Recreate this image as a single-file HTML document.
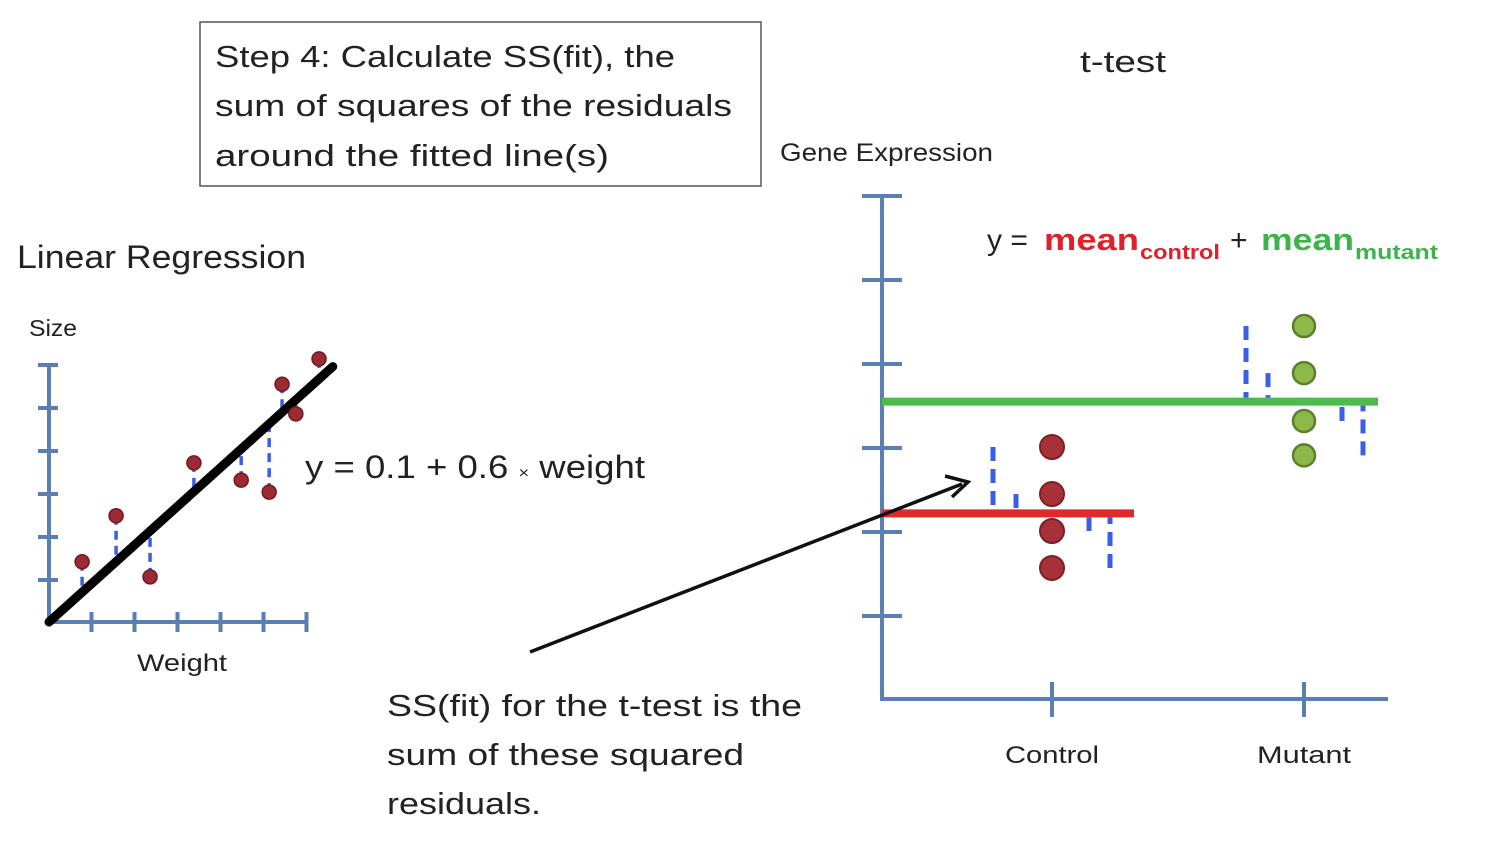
<!DOCTYPE html>
<html><head><meta charset="utf-8"><style>
html,body{margin:0;padding:0;background:#fff;}
svg{display:block;font-family:"Liberation Sans",sans-serif;}
</style></head><body>
<svg id="c" width="1500" height="842" viewBox="0 0 1500 842">
<rect x="200" y="22" width="561" height="164" fill="#fff" stroke="#555" stroke-width="1.5"/>
<g fill="#222" font-size="31">
<text x="215" y="67" textLength="460" lengthAdjust="spacingAndGlyphs">Step 4: Calculate SS(fit), the</text>
<text x="215" y="116" textLength="517" lengthAdjust="spacingAndGlyphs">sum of squares of the residuals</text>
<text x="215" y="166" textLength="394" lengthAdjust="spacingAndGlyphs">around the fitted line(s)</text>
</g>
<text x="1080" y="72" font-size="31" fill="#222" textLength="86" lengthAdjust="spacingAndGlyphs">t-test</text>
<text x="780" y="161" font-size="25" fill="#222" textLength="213" lengthAdjust="spacingAndGlyphs">Gene Expression</text>
<text x="17" y="268" font-size="32" fill="#222" textLength="289" lengthAdjust="spacingAndGlyphs">Linear Regression</text>
<text x="29" y="336" font-size="23" fill="#222" textLength="48" lengthAdjust="spacingAndGlyphs">Size</text>
<text x="137" y="671" font-size="24" fill="#222" textLength="90" lengthAdjust="spacingAndGlyphs">Weight</text>
<text x="305" y="478" font-size="32" fill="#222" textLength="340" lengthAdjust="spacingAndGlyphs"><tspan>y = 0.1 + 0.6 </tspan><tspan font-size="16">×</tspan><tspan> weight</tspan></text>
<g fill="#222" font-size="31">
<text x="387" y="716" textLength="415" lengthAdjust="spacingAndGlyphs">SS(fit) for the t-test is the</text>
<text x="387" y="765" textLength="357" lengthAdjust="spacingAndGlyphs">sum of these squared</text>
<text x="387" y="814" textLength="154" lengthAdjust="spacingAndGlyphs">residuals.</text>
</g>
<text x="1005" y="763" font-size="24" fill="#222" textLength="94" lengthAdjust="spacingAndGlyphs">Control</text>
<text x="1257" y="763" font-size="24" fill="#222" textLength="94" lengthAdjust="spacingAndGlyphs">Mutant</text>
<g>
<text x="987" y="250" font-size="30" fill="#222">y =</text>
<text x="1044" y="250" font-size="31" font-weight="bold" fill="#e0202a" textLength="95" lengthAdjust="spacingAndGlyphs">mean</text>
<text x="1140" y="259" font-size="20" font-weight="bold" fill="#e0202a" textLength="80" lengthAdjust="spacingAndGlyphs">control</text>
<text x="1230" y="250" font-size="30" fill="#222">+</text>
<text x="1261" y="250" font-size="31" font-weight="bold" fill="#3cb44a" textLength="93" lengthAdjust="spacingAndGlyphs">mean</text>
<text x="1355" y="259" font-size="20" font-weight="bold" fill="#3cb44a" textLength="83" lengthAdjust="spacingAndGlyphs">mutant</text>
</g>
<g id="left"></g>
<g id="right"></g>
<line x1="530" y1="652" x2="962" y2="484" stroke="#111" stroke-width="3.5"/>
<polyline points="945,476 968,482 952,497" fill="none" stroke="#111" stroke-width="3.5"/>
</svg>
<script>
// Linear regression data (tick units)
const weights = [0.77, 1.56, 2.35, 3.37, 4.47, 5.12, 5.42, 5.74, 6.28];
const sizes   = [1.40, 2.47, 1.05, 3.70, 3.30, 3.02, 5.53, 4.84, 6.12];
const fitSlope = 0.9;
const fitMax = 6.6;
// t-test data
const controlValues = [3.00, 2.44, 2.00, 1.56];
const mutantValues  = [4.44, 3.88, 3.31, 2.90];
const controlMean = 2.21;
const mutantMean = 3.54;

const NS="http://www.w3.org/2000/svg";
function mk(p,tag,a){const e=document.createElementNS(NS,tag);for(const k in a)e.setAttribute(k,a[k]);p.appendChild(e);return e;}
const L=document.getElementById('left'), R=document.getElementById('right');
const lx=v=>49+v*43, ly=v=>622-v*43;
const axc="#5a7fb5";
let e;
e=mk(L,'line',{x1:49,y1:365,x2:49,y2:622,stroke:axc,'stroke-width':4});


e=mk(L,'line',{x1:49,y1:622,x2:308,y2:622,stroke:axc,'stroke-width':4});


for(let i=1;i<=6;i++){
 e=mk(L,'line',{x1:38,x2:58,y1:ly(i)+1,y2:ly(i)+1,stroke:axc,'stroke-width':4});
 
 
 e=mk(L,'line',{x1:lx(i)-.5,x2:lx(i)-.5,y1:612,y2:632,stroke:axc,'stroke-width':4});
 
 
}
weights.forEach((w,i)=>{
 e=mk(L,'line',{x1:lx(w),x2:lx(w),y1:ly(sizes[i]),y2:ly(w*fitSlope),stroke:"#3b5ee8",'stroke-width':3.5,'stroke-dasharray':'9,6'});
 
 
});
e=mk(L,'line',{x1:lx(0),y1:ly(0),x2:lx(fitMax),y2:ly(fitMax*fitSlope),stroke:"#000",'stroke-width':9,'stroke-linecap':'round'});


weights.forEach((w,i)=>{
 e=mk(L,'circle',{cx:lx(w),cy:ly(sizes[i]),r:7,fill:"#9b2a33",stroke:"#6e1a20",'stroke-width':1.5});
 
 
});

// right chart
const ry=v=>699-v*84;
e=mk(R,'line',{x1:882,y1:196,x2:882,y2:699,stroke:axc,'stroke-width':4});


e=mk(R,'line',{x1:880,y1:699,x2:1388,y2:699,stroke:axc,'stroke-width':4});


for(let i=1;i<=6;i++){
 e=mk(R,'line',{x1:862,x2:902,y1:ry(i)+1,y2:ry(i)+1,stroke:axc,'stroke-width':4});
 
 
}
[1052,1304].forEach(x=>{
 e=mk(R,'line',{x1:x,x2:x,y1:682,y2:717,stroke:axc,'stroke-width':4});
 
 
});
e=mk(R,'line',{x1:882,x2:1378,y1:ry(mutantMean),y2:ry(mutantMean),stroke:"#4cbb4c",'stroke-width':8});


e=mk(R,'line',{x1:882,x2:1134,y1:ry(controlMean),y2:ry(controlMean),stroke:"#e02a2a",'stroke-width':8});


const cRes=[993,1016,1089,1110], mRes=[1246,1268,1342,1363];
controlValues.forEach((v,i)=>{
 e=mk(R,'line',{x1:cRes[i],x2:cRes[i],y1:ry(v),y2:ry(controlMean)-(v>controlMean?4:-4),stroke:"#3b5ee8",'stroke-width':5,'stroke-dasharray':'14,8'});
 
 
 e=mk(R,'circle',{cx:1052,cy:ry(v),r:12,fill:"#a83038",stroke:"#7e1e25",'stroke-width':2});
 
 
});
mutantValues.forEach((v,i)=>{
 e=mk(R,'line',{x1:mRes[i],x2:mRes[i],y1:ry(v),y2:ry(mutantMean)-(v>mutantMean?4:-4),stroke:"#3b5ee8",'stroke-width':5,'stroke-dasharray':'14,8'});
 
 
 e=mk(R,'circle',{cx:1304,cy:ry(v),r:11,fill:"#8db84a",stroke:"#5e7f2e",'stroke-width':2.5});
 
 
});
</script>
</body></html>
